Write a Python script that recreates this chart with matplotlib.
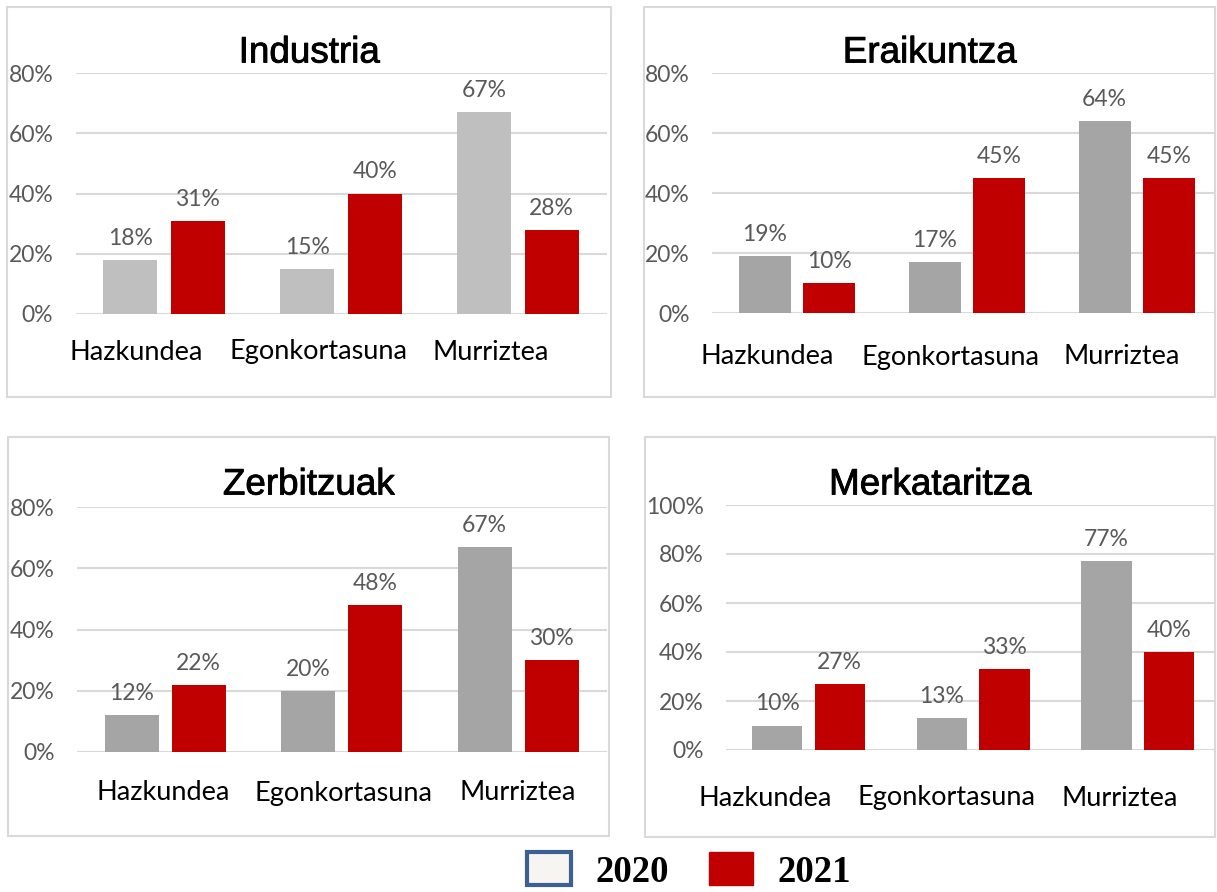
import matplotlib
matplotlib.use("Agg")
import matplotlib.pyplot as plt
import matplotlib.patheffects as pe
from matplotlib.patches import Rectangle, Patch
from matplotlib.ticker import PercentFormatter

# data
categories = ["Hazkundea", "Egonkortasuna", "Murriztea"]
titles = ["Industria", "Eraikuntza", "Zerbitzuak", "Merkataritza"]
v2020 = [
    [18, 15, 67],
    [19, 17, 64],
    [12, 20, 67],
    [10, 13, 77],
]
v2021 = [
    [31, 40, 28],
    [10, 45, 45],
    [22, 48, 30],
    [27, 33, 40],
]
ymax = [80, 80, 80, 100]

W, H = 1217, 892
fig = plt.figure(figsize=(W / 100, H / 100), dpi=100)

RED = "#C00000"
GRAYS = ["#BFBFBF", "#A5A5A5", "#A5A5A5", "#A5A5A5"]
TXT = "#595959"
GRID = "#D9D9D9"
BODY = "Lato"
PT = 0.72  # points per pixel at 100 dpi

# layout in pixels: box (l, t, r, b), axes left, slot width, y of 0, y of ymax
boxes = [(7, 7, 611, 397), (644, 7, 1215, 397), (8, 437, 609, 836), (645, 437, 1215, 837)]
ax_left = [75.5, 712, 77, 726]
slot = [177, 170, 176.5, 164.75]
y0 = [314, 313, 752, 750]
ytop = [73, 73, 507, 505]
# category labels: distance below axis (centre) and horizontal shift, px
cat_dy = [38, 44, 41, 48]
cat_dx = [[-28, -23, -27], [-30, -17, -15], [-2, 2, -1], [-43, -27, -18]]

def fx(px):
    return px / W

def fy(py):
    return 1 - py / H

for i in range(4):
    l, t, r, b = boxes[i]
    fig.patches.append(Rectangle((fx(l), fy(b)), fx(r - l), (b - t) / H,
                                 transform=fig.transFigure, fill=False,
                                 edgecolor=GRID, linewidth=1.5, zorder=0))
    right = min(ax_left[i] + 3 * slot[i], r - 1)
    ax = fig.add_axes([fx(ax_left[i]), fy(y0[i]), fx(right - ax_left[i]), (y0[i] - ytop[i]) / H])
    x = range(len(categories))
    w = 0.305
    off = 0.19
    b1 = ax.bar([k - off for k in x], v2020[i], w, color=GRAYS[i], zorder=2)
    b2 = ax.bar([k + off for k in x], v2021[i], w, color=RED, zorder=2)
    for bars, vals in ((b1, v2020[i]), (b2, v2021[i])):
        for bar, v in zip(bars, vals):
            ax.annotate(f"{v}%", (bar.get_x() + bar.get_width() / 2, v),
                        xytext=(0, 8), textcoords="offset points",
                        ha="center", va="bottom", fontsize=16.5, color=TXT, family=BODY)
    ax.set_xlim(-0.5, -0.5 + (right - ax_left[i]) / slot[i])
    ax.set_ylim(0, ymax[i])
    ax.set_yticks(range(0, ymax[i] + 1, 20))
    ax.yaxis.set_major_formatter(PercentFormatter(decimals=0))
    ax.set_xticks([])
    for k, name in enumerate(categories):
        ax.annotate(name, (k, 0), xycoords=ax.get_xaxis_transform(),
                    xytext=(cat_dx[i][k] * PT, -cat_dy[i] * PT), textcoords="offset points",
                    ha="center", va="center", fontsize=19.5, family=BODY, color="black",
                    annotation_clip=False)
    ax.tick_params(axis="y", length=0, pad=16, labelsize=16.5, labelcolor=TXT)
    for lab in ax.get_yticklabels():
        lab.set_family(BODY)
    ax.grid(axis="y", color=GRID, linewidth=1.5, zorder=0)
    for s in ax.spines.values():
        s.set_visible(False)
    ax.set_facecolor("none")
    fig.text(fx((l + r) / 2), fy(53 if i < 2 else 485), titles[i], ha="center", va="center",
             color="black", family="Liberation Sans", fontsize=26.5,
             path_effects=[pe.withStroke(linewidth=0.6, foreground="black")])

handles = [Patch(facecolor="#F7F5F2", edgecolor="#3C6090", linewidth=3),
           Patch(facecolor=RED, edgecolor=RED)]
fig.legend(handles, ["2020", "2021"], loc="center", bbox_to_anchor=(689 / W, 1 - 871 / H),
           ncol=2, frameon=False, prop={"family": "Liberation Serif", "weight": "bold", "size": 26.5},
           handlelength=1.2, handleheight=1.0, handletextpad=0.65, columnspacing=1.1, borderpad=0)

fig.savefig("out.png", dpi=100)
